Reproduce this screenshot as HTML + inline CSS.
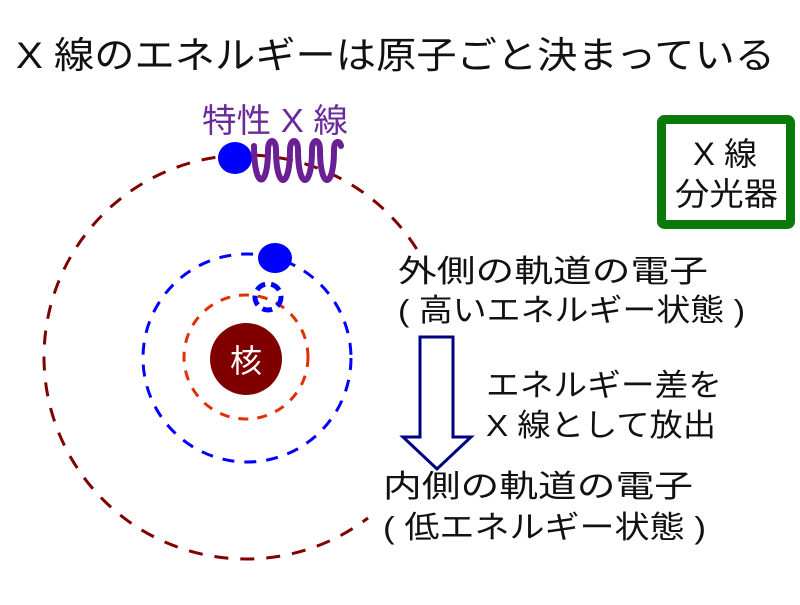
<!DOCTYPE html>
<html><head><meta charset="utf-8"><style>
body{margin:0;background:#fff}
svg text{font-family:"Liberation Sans","Noto Sans CJK JP",sans-serif}
</style></head><body>
<svg width="800" height="600" xmlns="http://www.w3.org/2000/svg">
<text x="16" y="68" font-size="37" fill="#111" textLength="759" lengthAdjust="spacingAndGlyphs">X 線のエネルギーは原子ごと決まっている</text>
<path d="M416.7,249 A202,202 0 1 0 368,518" fill="none" stroke="#800000" stroke-width="3" stroke-dasharray="14,12"/>
<circle cx="247" cy="358" r="104" fill="none" stroke="#0000ff" stroke-width="3" stroke-dasharray="12,10"/>
<circle cx="246" cy="357" r="62" fill="none" stroke="#e03000" stroke-width="3" stroke-dasharray="10,9"/>
<circle cx="246" cy="359" r="36" fill="#800000"/>
<text x="246" y="372" font-size="32" fill="#fff" text-anchor="middle">核</text>
<circle cx="268" cy="297" r="13" fill="none" stroke="#0000ff" stroke-width="5" stroke-dasharray="10,6"/>
<ellipse cx="275" cy="258" rx="17" ry="15" fill="#0000ff"/>
<ellipse cx="235" cy="158" rx="17" ry="16" fill="#0000ff"/>
<path d="M254,146 C254,190 268,190 268,150 C268,138 276,138 276,150 C276,190 290,190 290,150 C290,138 298,138 298,150 C298,190 312,190 312,150 C312,138 320,138 320,150 C320,190 334,190 334,150 C334,140 340,140 341,146" fill="none" stroke="#6a1f95" stroke-width="6" stroke-linecap="round"/>
<text x="202" y="132" font-size="33" fill="#6a2a9a" textLength="146" lengthAdjust="spacingAndGlyphs">特性 X 線</text>
<rect x="661.5" y="119.5" width="129" height="105" fill="#fff" stroke="#0a7a0a" stroke-width="9" rx="3"/>
<text x="693" y="165" font-size="32" fill="#111" textLength="64" lengthAdjust="spacingAndGlyphs">X 線</text>
<text x="675" y="205" font-size="32" fill="#111" textLength="103" lengthAdjust="spacingAndGlyphs">分光器</text>
<text x="398" y="282" font-size="31" fill="#111" textLength="310" lengthAdjust="spacingAndGlyphs">外側の軌道の電子</text>
<text x="398" y="321" font-size="31" fill="#111" textLength="347" lengthAdjust="spacingAndGlyphs">( 高いエネルギー状態 )</text>
<polygon points="420,337 453,337 453,437 471,437 437,469 403,437 420,437" fill="#fff" stroke="#000080" stroke-width="3"/>
<text x="486" y="396" font-size="31" fill="#111" textLength="236" lengthAdjust="spacingAndGlyphs">エネルギー差を</text>
<text x="486" y="436" font-size="31" fill="#111" textLength="230" lengthAdjust="spacingAndGlyphs">X 線として放出</text>
<text x="383" y="497" font-size="31" fill="#111" textLength="310" lengthAdjust="spacingAndGlyphs">内側の軌道の電子</text>
<text x="383" y="538" font-size="31" fill="#111" textLength="323" lengthAdjust="spacingAndGlyphs">( 低エネルギー状態 )</text>
</svg>
</body></html>
